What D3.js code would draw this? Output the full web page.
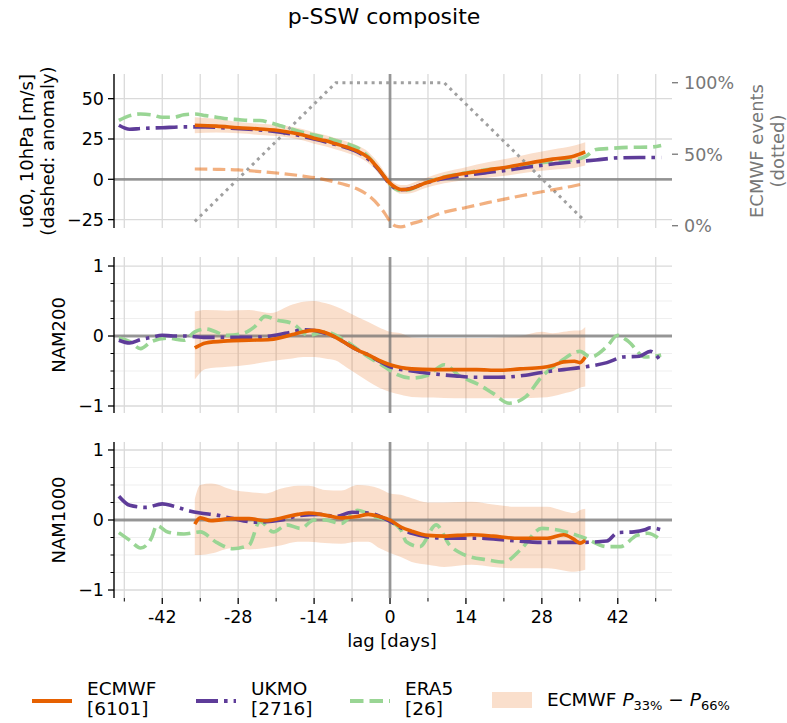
<!DOCTYPE html>
<html>
<head>
<meta charset="utf-8">
<script src="https://cdn.jsdelivr.net/npm/d3@7"></script>
<style>
  body { margin: 0; background: #fff; }
  text { font-family: "DejaVu Sans", sans-serif; }
</style>
</head>
<body>
<svg id="chart" width="787" height="723"></svg>
<script>
// Colours
var ecmwfColour = '#e66101';
var ukmoColour = '#5e3c99';
var era5Colour = '#99d594';
var eventsColour = '#a0a0a0';
var gridColour = '#dadada';
var minorGridColour = '#efefef';
var zeroColour = 'rgba(115,115,115,0.7)';
var rightAxisColour = '#777777';

// Line styles (matplotlib-like dash patterns)
var lineWidth = 3.6;
var ukmoDash = '22,6,3.6,6';
var era5Dash = '13.5,6';
var anomDash = '12.5,5.5';
var eventsDash = '3,4.3';

// Tick labels
var xTickValues = [-42, -28, -14, 0, 14, 28, 42];
var xTickLabels = ['-42', '-28', '-14', '0', '14', '28', '42'];
var uTickValues = [50, 25, 0, -25];
var namTickValues = [1, 0, -1];
var pctTickValues = [100, 50, 0];

// u60 10hPa panel
var ecLagU = [-36,-32,-28,-24,-20,-16,-14,-12,-10,-8,-6,-4,-3,-2,-1,0,1,2,3,4,6,8,10,14,18,22,26,30,34,36];
var ecU = [33.5,33,32,31.2,30,27.5,25.5,24,22,20,17.5,13.5,10,6,1.5,-2.5,-5,-6.3,-6.3,-5.6,-3,-0.8,1.2,3.8,5.8,7.8,10.3,12.5,14.5,17];
var ecULo = [28.5,29,28.5,27.5,26.5,24,22,20.5,18.5,16.5,14,10,7,3,-1,-5,-7.5,-9,-9,-8.5,-6,-4,-2.5,-0.5,1,2.5,4.5,6,7,8.5];
var ecUHi = [38.5,37.5,35.5,34.5,33.5,31,29,27.5,25.5,23.5,21,17,13.5,9.5,4.5,0.5,-2.5,-3.5,-3.5,-2.5,0,2.5,4.5,7.5,10.5,13,16,18.5,21,23];

var ecLagAnom = [-36,-32,-28,-24,-20,-16,-13,-10,-8,-6,-4,-2,-1,0,1,2,4,6,8,10,14,18,22,26,30,34,36];
var ecAnom = [6.4,6.2,5.8,4.8,3.6,2,0.5,-1.8,-3.6,-6,-10,-16.5,-21,-26,-29,-29.5,-27.5,-25.5,-22.7,-20.4,-17.5,-14.5,-11.7,-9,-6.5,-4,-2.5];

var eventsLag = [-36, -10, 10, 36];
var eventsPct = [3, 100, 100, 3];

var ukLagU = [-50,-48,-46,-42,-38,-34,-30,-26,-22,-18,-14,-10,-8,-6,-4,-2,0,1,2,4,6,8,10,14,18,22,26,30,34,38,42,46,50];
var ukU = [33.5,31,31.5,32,32.5,32.5,31.8,31,30,28,25,21.5,19.5,17,12.5,5.5,-3,-5.5,-6.5,-5.5,-3,-1,0.5,2.5,4.2,5.8,7.8,9.5,10.8,12,13.3,13.5,13.5];

var eraLagU = [-50,-48,-46,-44,-42,-40,-38,-36,-34,-32,-30,-28,-26,-24,-22,-20,-18,-16,-14,-12,-10,-8,-6,-4,-2,0,1,2,4,6,8,10,14,18,22,26,30,34,36,38,40,44,48,50];
var eraU = [36.5,39.5,40.5,40,38.5,38.5,40,40.5,39.5,38.5,37.5,37,36.5,36.5,35,33,31,29,27.5,26,24,22,19.5,14,6,-3,-6,-7,-6,-3,-0.5,1.5,4,6,7.5,9.5,11,12,14,18.5,19,19.8,20,21];

// NAM200 panel
var ecLag200 = [-36,-34,-30,-26,-22,-18,-16,-14,-12,-10,-8,-6,-4,-2,0,2,4,8,12,16,20,24,28,30,32,34,35,36];
var ec200 = [-0.17,-0.1,-0.07,-0.06,-0.05,0.02,0.06,0.08,0.05,-0.02,-0.11,-0.2,-0.27,-0.35,-0.41,-0.45,-0.47,-0.48,-0.48,-0.48,-0.49,-0.47,-0.45,-0.42,-0.37,-0.36,-0.38,-0.3];
var ec200Lo = [-0.62,-0.47,-0.44,-0.41,-0.36,-0.32,-0.3,-0.3,-0.32,-0.35,-0.45,-0.55,-0.65,-0.74,-0.8,-0.84,-0.87,-0.88,-0.89,-0.89,-0.89,-0.89,-0.88,-0.86,-0.82,-0.78,-0.74,-0.72];
var ec200Hi = [0.35,0.37,0.36,0.37,0.33,0.45,0.49,0.5,0.47,0.42,0.35,0.27,0.2,0.12,0.06,0.04,-0.02,-0.03,-0.03,-0.03,-0.02,0.0,0.06,0.04,0.06,0.08,0.08,0.13];

var ukLag200 = [-50,-48,-46,-44,-42,-40,-38,-34,-30,-26,-22,-18,-16,-14,-12,-10,-8,-6,-4,-2,0,4,8,12,16,20,24,28,32,36,40,43,46,48,50];
var uk200 = [-0.06,-0.1,-0.05,-0.02,0.01,0,0,-0.02,-0.02,-0.02,0.0,0.06,0.09,0.08,0.04,-0.02,-0.11,-0.2,-0.27,-0.36,-0.44,-0.5,-0.54,-0.57,-0.59,-0.59,-0.57,-0.52,-0.48,-0.44,-0.38,-0.3,-0.29,-0.22,-0.37];

var eraLag200 = [-50,-48,-46,-44,-41,-38,-36,-34,-30,-27,-25,-23,-21,-18,-15,-12,-8,-4,-2,0,1,4,7,10,13,16,19,22,25,28,31,35,37,40,42,44,47,50];
var era200 = [-0.03,-0.08,-0.18,-0.08,-0.03,-0.06,0.06,0.1,0.01,0.04,0.13,0.28,0.23,0.18,0.01,0.06,-0.08,-0.3,-0.39,-0.49,-0.54,-0.6,-0.56,-0.41,-0.58,-0.68,-0.82,-0.96,-0.87,-0.58,-0.39,-0.22,-0.3,-0.15,0.01,-0.08,-0.3,-0.27];

// NAM1000 panel
var ecLag1000 = [-36,-35,-33,-29,-26,-23,-20,-17,-15,-12,-9,-6,-4,-2,0,2,4,7,10,15,19,23,26,29,32,34,35,36];
var ec1000 = [-0.06,0.03,-0.01,0.02,0.02,-0.01,0.03,0.08,0.1,0.07,0.03,0.05,0.08,0.05,0.0,-0.1,-0.16,-0.22,-0.23,-0.21,-0.23,-0.26,-0.26,-0.26,-0.21,-0.28,-0.33,-0.29];
var ec1000Lo = [-0.5,-0.5,-0.48,-0.4,-0.42,-0.4,-0.36,-0.31,-0.31,-0.33,-0.34,-0.31,-0.31,-0.4,-0.47,-0.53,-0.6,-0.64,-0.67,-0.64,-0.67,-0.69,-0.69,-0.69,-0.72,-0.74,-0.73,-0.71];
var ec1000Hi = [0.3,0.5,0.52,0.43,0.4,0.38,0.45,0.49,0.49,0.43,0.42,0.5,0.49,0.45,0.38,0.36,0.31,0.25,0.25,0.26,0.22,0.19,0.19,0.19,0.13,0.1,0.14,0.16];

var ukLag1000 = [-50,-48,-45,-42,-40,-37,-35,-32,-29,-25,-20,-17,-13,-10,-7,-4,0,4,10,16,22,28,35,40,42,45,47,48,50];
var uk1000 = [0.34,0.21,0.18,0.23,0.2,0.13,0.1,0.07,0.02,-0.03,0,0.06,0.08,0.05,0.11,0.1,-0.02,-0.19,-0.26,-0.26,-0.29,-0.32,-0.32,-0.3,-0.18,-0.17,-0.14,-0.11,-0.14];

var eraLag1000 = [-50,-48,-46,-44,-43,-41,-38,-35,-32,-29,-26,-24,-21.5,-19,-16.5,-14,-12,-9,-6,-3,0,2,3,5.5,8.5,11,13.5,18,21,24,28,32.5,36,40,42.5,45.5,47.5,50];
var era1000 = [-0.18,-0.29,-0.4,-0.26,-0.08,-0.17,-0.2,-0.17,-0.32,-0.41,-0.36,-0.02,-0.17,-0.07,-0.12,0,0,-0.05,0.14,0.05,-0.02,-0.14,-0.31,-0.38,-0.07,-0.36,-0.49,-0.57,-0.6,-0.43,-0.12,-0.17,-0.26,-0.38,-0.38,-0.22,-0.19,-0.29];

// Legend
var legendNames = ['ECMWF', 'UKMO', 'ERA5'];
var legendCounts = ['[6101]', '[2716]', '[26]'];

var svg = d3.select('#chart');
var tickFont = 17.5;
var labelFont = 18;
var legendFont = 18.5;

var x = d3.scaleLinear().domain([-50.9, 52.0]).range([114, 672]);

function zip(xs, ys) {
  return xs.map(function (d, i) { return [d, ys[i]]; });
}

function drawGrid(g, y, majors, minors) {
  var x0 = x.range()[0], x1 = x.range()[1];
  g.selectAll('line.minor-h').data(minors).enter().append('line')
    .attr('x1', x0).attr('x2', x1)
    .attr('y1', function (d) { return y(d); }).attr('y2', function (d) { return y(d); })
    .attr('stroke', minorGridColour).attr('stroke-width', 1);
  g.selectAll('line.major-h').data(majors).enter().append('line')
    .attr('x1', x0).attr('x2', x1)
    .attr('y1', function (d) { return y(d); }).attr('y2', function (d) { return y(d); })
    .attr('stroke', gridColour).attr('stroke-width', 1.3);
  g.selectAll('line.vgrid').data(d3.range(-49, 50, 7)).enter().append('line')
    .attr('x1', function (d) { return x(d); }).attr('x2', function (d) { return x(d); })
    .attr('y1', y.range()[0]).attr('y2', y.range()[1])
    .attr('stroke', gridColour).attr('stroke-width', 1.3);
}

function drawZero(g, y) {
  g.append('line')
    .attr('x1', x.range()[0]).attr('x2', x.range()[1])
    .attr('y1', y(0)).attr('y2', y(0))
    .attr('stroke', zeroColour).attr('stroke-width', 2.8);
  g.append('line')
    .attr('x1', x(0)).attr('x2', x(0))
    .attr('y1', y.range()[0]).attr('y2', y.range()[1])
    .attr('stroke', zeroColour).attr('stroke-width', 2.8);
}

function drawBand(g, y, lags, lo, hi) {
  var area = d3.area()
    .x(function (d) { return x(d[0]); })
    .y0(function (d) { return y(d[1]); })
    .y1(function (d) { return y(d[2]); })
    .curve(d3.curveMonotoneX);
  g.append('path')
    .datum(lags.map(function (d, i) { return [d, lo[i], hi[i]]; }))
    .attr('d', area)
    .attr('fill', ecmwfColour).attr('fill-opacity', 0.2);
}

function drawLine(g, y, lags, vals, colour, width, dash, opacity, curve) {
  var line = d3.line()
    .x(function (d) { return x(d[0]); })
    .y(function (d) { return y(d[1]); })
    .curve(curve || d3.curveMonotoneX);
  g.append('path')
    .datum(zip(lags, vals))
    .attr('d', line)
    .attr('fill', 'none')
    .attr('stroke', colour)
    .attr('stroke-width', width)
    .attr('stroke-dasharray', dash)
    .attr('stroke-opacity', opacity || 1);
}

function drawLeftAxis(g, y, ticks, minorTicks) {
  var x0 = x.range()[0];
  g.append('line')
    .attr('x1', x0).attr('x2', x0)
    .attr('y1', y.range()[0]).attr('y2', y.range()[1])
    .attr('stroke', 'black').attr('stroke-width', 1.4);
  g.selectAll('line.ytick').data(ticks).enter().append('line')
    .attr('x1', x0 - 6).attr('x2', x0)
    .attr('y1', function (d) { return y(d); }).attr('y2', function (d) { return y(d); })
    .attr('stroke', 'black').attr('stroke-width', 1.3);
  g.selectAll('line.yminor').data(minorTicks).enter().append('line')
    .attr('x1', x0 - 3.5).attr('x2', x0)
    .attr('y1', function (d) { return y(d); }).attr('y2', function (d) { return y(d); })
    .attr('stroke', 'black').attr('stroke-width', 1);
  g.selectAll('text.ylab').data(ticks).enter().append('text')
    .attr('x', x0 - 10)
    .attr('y', function (d) { return y(d); })
    .attr('dy', '0.36em')
    .attr('text-anchor', 'end')
    .attr('font-size', tickFont)
    .text(function (d) { return d < 0 ? '\u2212' + Math.abs(d) : String(d); });
}

function yLabel(lines, cx, cy, colour) {
  var t = svg.append('text')
    .attr('transform', 'translate(' + cx + ',' + cy + ') rotate(-90)')
    .attr('text-anchor', 'middle')
    .attr('font-size', labelFont)
    .attr('fill', colour || 'black');
  lines.forEach(function (s, i) {
    t.append('tspan').attr('x', 0).attr('dy', i === 0 ? 0 : '1.15em').text(s);
  });
  return t;
}

// ---- Panel 1: u60 ----
var yU = d3.scaleLinear().domain([-30.2, 65.3]).range([228, 74]);
var yPct = d3.scaleLinear().domain([-1.6, 106.1]).range([228, 74]);
var p1 = svg.append('g');
drawGrid(p1, yU, uTickValues, []);
drawBand(p1, yU, ecLagU, ecULo, ecUHi);
drawZero(p1, yU);
drawLine(p1, yPct, eventsLag, eventsPct, eventsColour, 3, eventsDash, 1, d3.curveLinear);
drawLine(p1, yU, ecLagAnom, ecAnom, ecmwfColour, 3.2, anomDash, 0.5);
drawLine(p1, yU, eraLagU, eraU, era5Colour, lineWidth, era5Dash);
drawLine(p1, yU, ukLagU, ukU, ukmoColour, lineWidth, ukmoDash);
drawLine(p1, yU, ecLagU, ecU, ecmwfColour, lineWidth, null);
drawLeftAxis(p1, yU, uTickValues, []);

// right axis (ECMWF events)
p1.selectAll('line.rtick').data(pctTickValues).enter().append('line')
  .attr('x1', 672).attr('x2', 678)
  .attr('y1', function (d) { return yPct(d); }).attr('y2', function (d) { return yPct(d); })
  .attr('stroke', rightAxisColour).attr('stroke-width', 1.3);
p1.selectAll('text.rlab').data(pctTickValues).enter().append('text')
  .attr('x', 684)
  .attr('y', function (d) { return yPct(d); })
  .attr('dy', '0.36em')
  .attr('font-size', tickFont)
  .attr('fill', rightAxisColour)
  .text(function (d) { return d + '%'; });

yLabel(['u60, 10hPa [m/s]', '(dashed: anomaly)'], 33, 151);
yLabel(['ECMWF events', '(dotted)'], 763, 151, rightAxisColour);

// ---- Panels 2 & 3: NAM ----
var namMinor = [0.75, 0.5, 0.25, -0.25, -0.5, -0.75];

var yN200 = d3.scaleLinear().domain([-1.1, 1.129]).range([413, 257]);
var p2 = svg.append('g');
drawGrid(p2, yN200, namTickValues, namMinor);
drawBand(p2, yN200, ecLag200, ec200Lo, ec200Hi);
drawZero(p2, yN200);
drawLine(p2, yN200, eraLag200, era200, era5Colour, lineWidth, era5Dash);
drawLine(p2, yN200, ukLag200, uk200, ukmoColour, lineWidth, ukmoDash);
drawLine(p2, yN200, ecLag200, ec200, ecmwfColour, lineWidth, null);
drawLeftAxis(p2, yN200, namTickValues, namMinor);
yLabel(['NAM200'], 65, 335);

var yN1000 = d3.scaleLinear().domain([-1.114, 1.114]).range([598, 442]);
var p3 = svg.append('g');
drawGrid(p3, yN1000, namTickValues, namMinor);
drawBand(p3, yN1000, ecLag1000, ec1000Lo, ec1000Hi);
drawZero(p3, yN1000);
drawLine(p3, yN1000, eraLag1000, era1000, era5Colour, lineWidth, era5Dash);
drawLine(p3, yN1000, ukLag1000, uk1000, ukmoColour, lineWidth, ukmoDash);
drawLine(p3, yN1000, ecLag1000, ec1000, ecmwfColour, lineWidth, null);
drawLeftAxis(p3, yN1000, namTickValues, namMinor);
yLabel(['NAM1000'], 65, 520);

// x axis on the bottom panel
var xMinor = d3.range(-49, 50, 14);
p3.selectAll('line.xmajor').data(xTickValues).enter().append('line')
  .attr('x1', function (d) { return x(d); }).attr('x2', function (d) { return x(d); })
  .attr('y1', 598).attr('y2', 604)
  .attr('stroke', 'black').attr('stroke-width', 1.3);
p3.selectAll('line.xminor').data(xMinor).enter().append('line')
  .attr('x1', function (d) { return x(d); }).attr('x2', function (d) { return x(d); })
  .attr('y1', 598).attr('y2', 601.5)
  .attr('stroke', 'black').attr('stroke-width', 1);
p3.selectAll('text.xlab').data(xTickValues).enter().append('text')
  .attr('x', function (d) { return x(d); })
  .attr('y', 623)
  .attr('text-anchor', 'middle')
  .attr('font-size', tickFont)
  .text(function (d, i) { return xTickLabels[i]; });
svg.append('text')
  .attr('x', 392).attr('y', 647)
  .attr('text-anchor', 'middle')
  .attr('font-size', labelFont)
  .text('lag [days]');

// title
svg.append('text')
  .attr('x', 384).attr('y', 24)
  .attr('text-anchor', 'middle')
  .attr('font-size', 22)
  .text('p-SSW composite');

// legend
var legendX = [32, 196, 350];
var legendStyles = [
  { colour: ecmwfColour, dash: null },
  { colour: ukmoColour, dash: ukmoDash },
  { colour: era5Colour, dash: era5Dash }
];
var lg = svg.append('g');
legendNames.forEach(function (name, i) {
  lg.append('line')
    .attr('x1', legendX[i]).attr('x2', legendX[i] + 40)
    .attr('y1', 701).attr('y2', 701)
    .attr('stroke', legendStyles[i].colour)
    .attr('stroke-width', 3.8)
    .attr('stroke-dasharray', legendStyles[i].dash);
  var t = lg.append('text')
    .attr('x', legendX[i] + 55).attr('y', 695)
    .attr('font-size', legendFont);
  t.append('tspan').attr('x', legendX[i] + 55).text(name);
  t.append('tspan').attr('x', legendX[i] + 55).attr('dy', 20).text(legendCounts[i]);
});
lg.append('rect')
  .attr('x', 492).attr('y', 692).attr('width', 40).attr('height', 16)
  .attr('fill', ecmwfColour).attr('fill-opacity', 0.2);
var pt = lg.append('text')
  .attr('x', 547).attr('y', 706)
  .attr('font-size', legendFont);
pt.append('tspan').text('ECMWF ');
pt.append('tspan').attr('font-style', 'italic').text('P');
pt.append('tspan').attr('font-size', 13).attr('dy', 4).text('33%');
pt.append('tspan').attr('dy', -4).text(' \u2212 ');
pt.append('tspan').attr('font-style', 'italic').text('P');
pt.append('tspan').attr('font-size', 13).attr('dy', 4).text('66%');
</script>
</body>
</html>
